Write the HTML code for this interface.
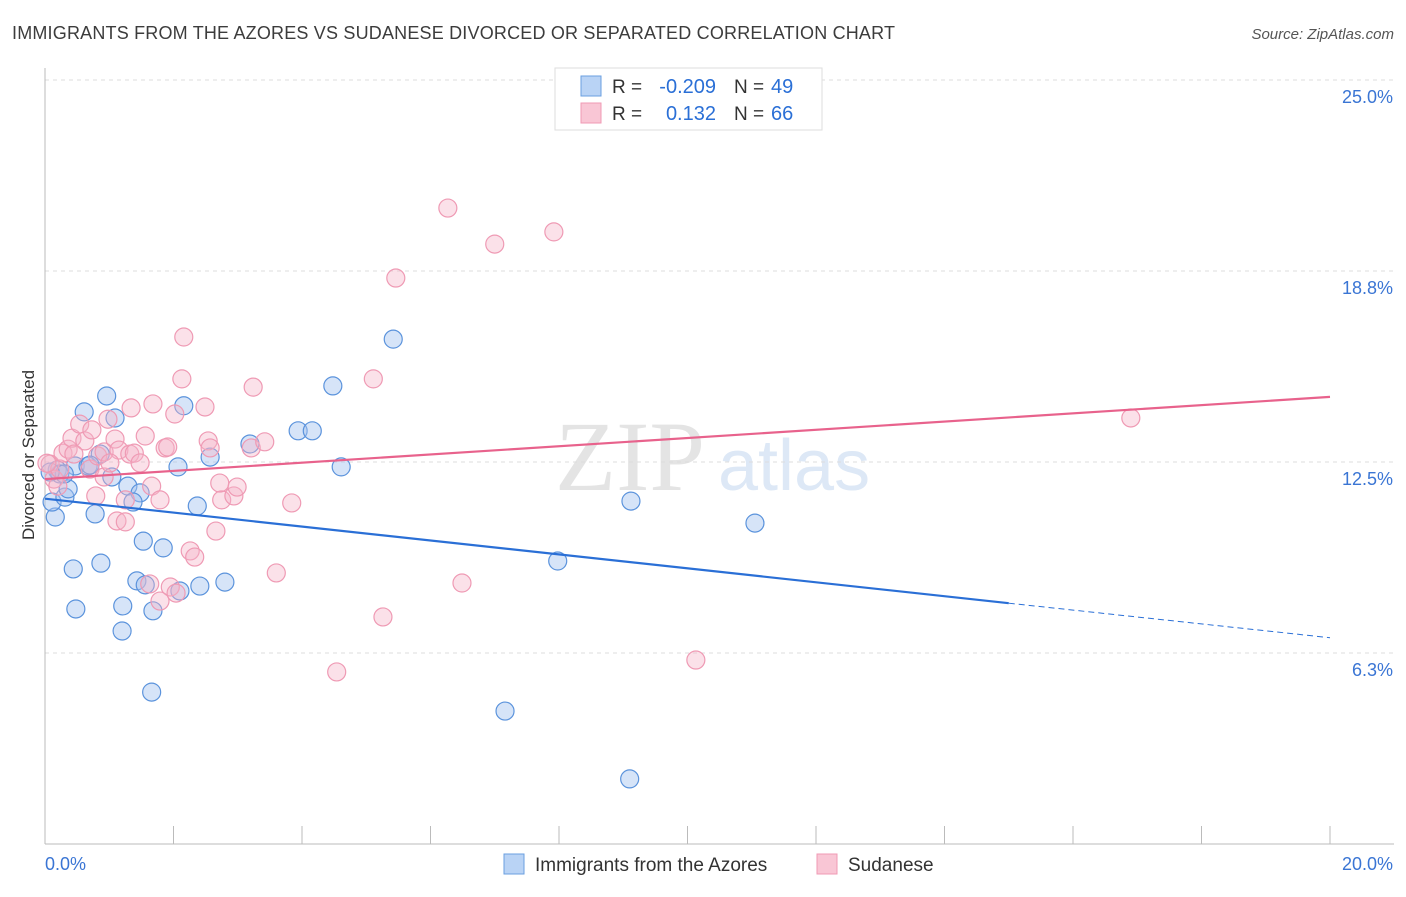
<!DOCTYPE html>
<html><head><meta charset="utf-8"><style>
body{margin:0;background:#fff;font-family:"Liberation Sans",sans-serif;}
</style></head><body>
<svg id="chart" width="1406" height="892" xmlns="http://www.w3.org/2000/svg" font-family="Liberation Sans, sans-serif">
<text x="12" y="39" font-size="18" fill="#3c3c3c" textLength="883">IMMIGRANTS FROM THE AZORES VS SUDANESE DIVORCED OR SEPARATED CORRELATION CHART</text>
<text x="1394" y="39" font-size="15" font-style="italic" fill="#555" text-anchor="end">Source: ZipAtlas.com</text>
<text x="555" y="490" font-size="100" fill="#e4e4e4" font-family="Liberation Serif, serif">ZIP</text>
<text x="718" y="490" font-size="72" fill="#dde8f6">atlas</text>
<text transform="translate(34,455) rotate(-90)" font-size="17" fill="#333" text-anchor="middle">Divorced or Separated</text>
<g id="grid"></g><g id="axes"></g><g id="pts"></g><g id="lines"></g>
<g>
<rect x="555" y="68" width="267" height="62" fill="#fff" stroke="#ddd"/>
<rect x="581" y="76" width="20" height="20" fill="#b9d3f5" stroke="#6a9fe0"/>
<rect x="581" y="103" width="20" height="20" fill="#f9c6d5" stroke="#f09ab4"/>
<text x="612" y="93" font-size="19" fill="#333">R =</text>
<text x="716" y="93" font-size="20" fill="#2a6fd6" text-anchor="end">-0.209</text>
<text x="734" y="93" font-size="19" fill="#333">N =</text>
<text x="771" y="93" font-size="20" fill="#2a6fd6">49</text>
<text x="612" y="120" font-size="19" fill="#333">R =</text>
<text x="716" y="120" font-size="20" fill="#2a6fd6" text-anchor="end">0.132</text>
<text x="734" y="120" font-size="19" fill="#333">N =</text>
<text x="771" y="120" font-size="20" fill="#2a6fd6">66</text>
</g>
<g>
<rect x="504" y="854" width="20" height="20" fill="#b9d3f5" stroke="#6a9fe0"/>
<text x="535" y="871" font-size="19" fill="#333">Immigrants from the Azores</text>
<rect x="817" y="854" width="20" height="20" fill="#f9c6d5" stroke="#f09ab4"/>
<text x="848" y="871" font-size="19" fill="#333">Sudanese</text>
</g>
</svg>
<script>
const yTicks=[6.25,12.5,18.75,25];
const yTickLabels=["6.3%","12.5%","18.8%","25.0%"];
const xTicks=[0,2,4,6,8,10,12,14,16,18,20];
const blueX=[0.16,0.11,0.31,0.36,0.19,0.23,0.47,0.67,0.61,0.96,1.09,0.86,1.04,0.78,0.44,0.48,0.87,1.29,1.48,1.37,1.21,1.20,1.43,1.56,1.68,1.53,1.84,1.66,2.10,2.07,2.16,2.41,2.37,2.57,2.80,3.19,3.94,4.16,4.48,4.61,5.42,7.16,7.98,9.10,9.12,11.05,0.30,0.70,0.08];
const blueY=[10.70,11.19,11.35,11.62,12.24,12.11,12.37,12.37,14.14,14.66,13.94,12.76,12.01,10.80,9.00,7.69,9.19,11.71,11.49,11.19,7.79,6.97,8.61,8.48,7.63,9.91,9.69,4.97,8.28,12.34,14.34,8.44,11.06,12.66,8.57,13.09,13.52,13.52,14.99,12.34,16.52,4.35,9.26,2.13,11.22,10.50,12.11,12.40,12.17];
const pinkX=[0.08,0.14,0.23,0.28,0.36,0.42,0.54,0.62,0.70,0.79,0.82,0.92,0.98,0.92,1.09,1.15,1.12,1.25,1.25,1.32,1.34,1.39,1.48,1.56,1.63,1.68,1.66,1.79,1.87,1.91,1.95,2.04,2.02,2.13,2.16,2.26,2.33,2.49,2.54,2.57,2.66,2.75,2.72,2.94,2.99,3.21,3.24,3.42,3.60,3.84,4.54,5.11,5.26,5.46,6.27,6.49,7.00,7.92,10.13,16.90,0.20,0.45,1.01,0.73,1.79,0.03];
const pinkY=[12.43,11.94,12.27,12.79,12.92,13.28,13.74,13.19,12.27,11.39,12.70,12.83,13.90,12.01,13.25,12.89,10.57,10.54,11.26,12.76,14.27,12.79,12.47,13.35,8.51,14.40,11.71,11.26,12.96,12.99,8.41,8.21,14.07,15.22,16.59,9.59,9.39,14.30,13.19,12.96,10.24,11.26,11.81,11.39,11.68,12.96,14.95,13.16,8.87,11.16,5.63,15.22,7.43,18.52,20.81,8.54,19.63,20.03,6.02,13.94,11.71,12.76,12.47,13.55,7.95,12.46];
const blueLine=[11.3,7.88]; // at x=0 and x=15
const blueEnd=6.75; // at x=20
const pinkLine=[11.94,14.63]; // at x=0 and 20
const NS="http://www.w3.org/2000/svg";
const X0=45,X1=1330,Y0=844,YS=191/6.25;
const sx=v=>X0+(X1-X0)*v/20, sy=v=>Y0-v*YS;
function mk(t,a,p){const e=document.createElementNS(NS,t);for(const k in a)e.setAttribute(k,a[k]);document.getElementById(p).appendChild(e);return e;}
yTicks.forEach((t,i)=>{
 const g=mk('line',{x1:X0,x2:1394,y1:sy(t),y2:sy(t),stroke:'#ddd','stroke-dasharray':'4,4'},'grid');
 
 
 const l=mk('text',{x:1393,y:sy(t)+23,'font-size':18,fill:'#3a75d4','text-anchor':'end'},'axes');
 l.textContent=yTickLabels[i];
 
 
});
const ya=mk('line',{x1:X0,x2:X0,y1:68,y2:Y0,stroke:'#bbb'},'axes');


const xa=mk('line',{x1:X0,x2:1394,y1:Y0,y2:Y0,stroke:'#bbb'},'axes');


xTicks.forEach(t=>{const k=mk('line',{x1:sx(t),x2:sx(t),y1:Y0,y2:Y0-18,stroke:'#bbb'},'axes');
 
 });
const xl0=mk('text',{x:45,y:870,'font-size':18,fill:'#3a75d4'},'axes');xl0.textContent='0.0%';


const xl1=mk('text',{x:1393,y:870,'font-size':18,fill:'#3a75d4','text-anchor':'end'},'axes');xl1.textContent='20.0%';


blueX.forEach((v,i)=>{const c=mk('circle',{cx:sx(v),cy:sy(blueY[i]),r:9,fill:'rgba(165,196,240,0.45)',stroke:'#5b93dc','stroke-width':1.2},'pts');
 
 });
pinkX.forEach((v,i)=>{const c=mk('circle',{cx:sx(v),cy:sy(pinkY[i]),r:9,fill:'rgba(246,180,200,0.4)',stroke:'#ef9ab4','stroke-width':1.2},'pts');
 
 });
const bl=mk('line',{x1:sx(0),y1:sy(blueLine[0]),x2:sx(15),y2:sy(blueLine[1]),stroke:'#2a6fd6','stroke-width':2.2},'lines');


const bd=mk('line',{x1:sx(15),y1:sy(blueLine[1]),x2:sx(20),y2:sy(blueEnd),stroke:'#2a6fd6','stroke-width':1,'stroke-dasharray':'6,4'},'lines');


const pl=mk('line',{x1:sx(0),y1:sy(pinkLine[0]),x2:sx(20),y2:sy(pinkLine[1]),stroke:'#e8628c','stroke-width':2.2},'lines');


</script>
</body></html>
